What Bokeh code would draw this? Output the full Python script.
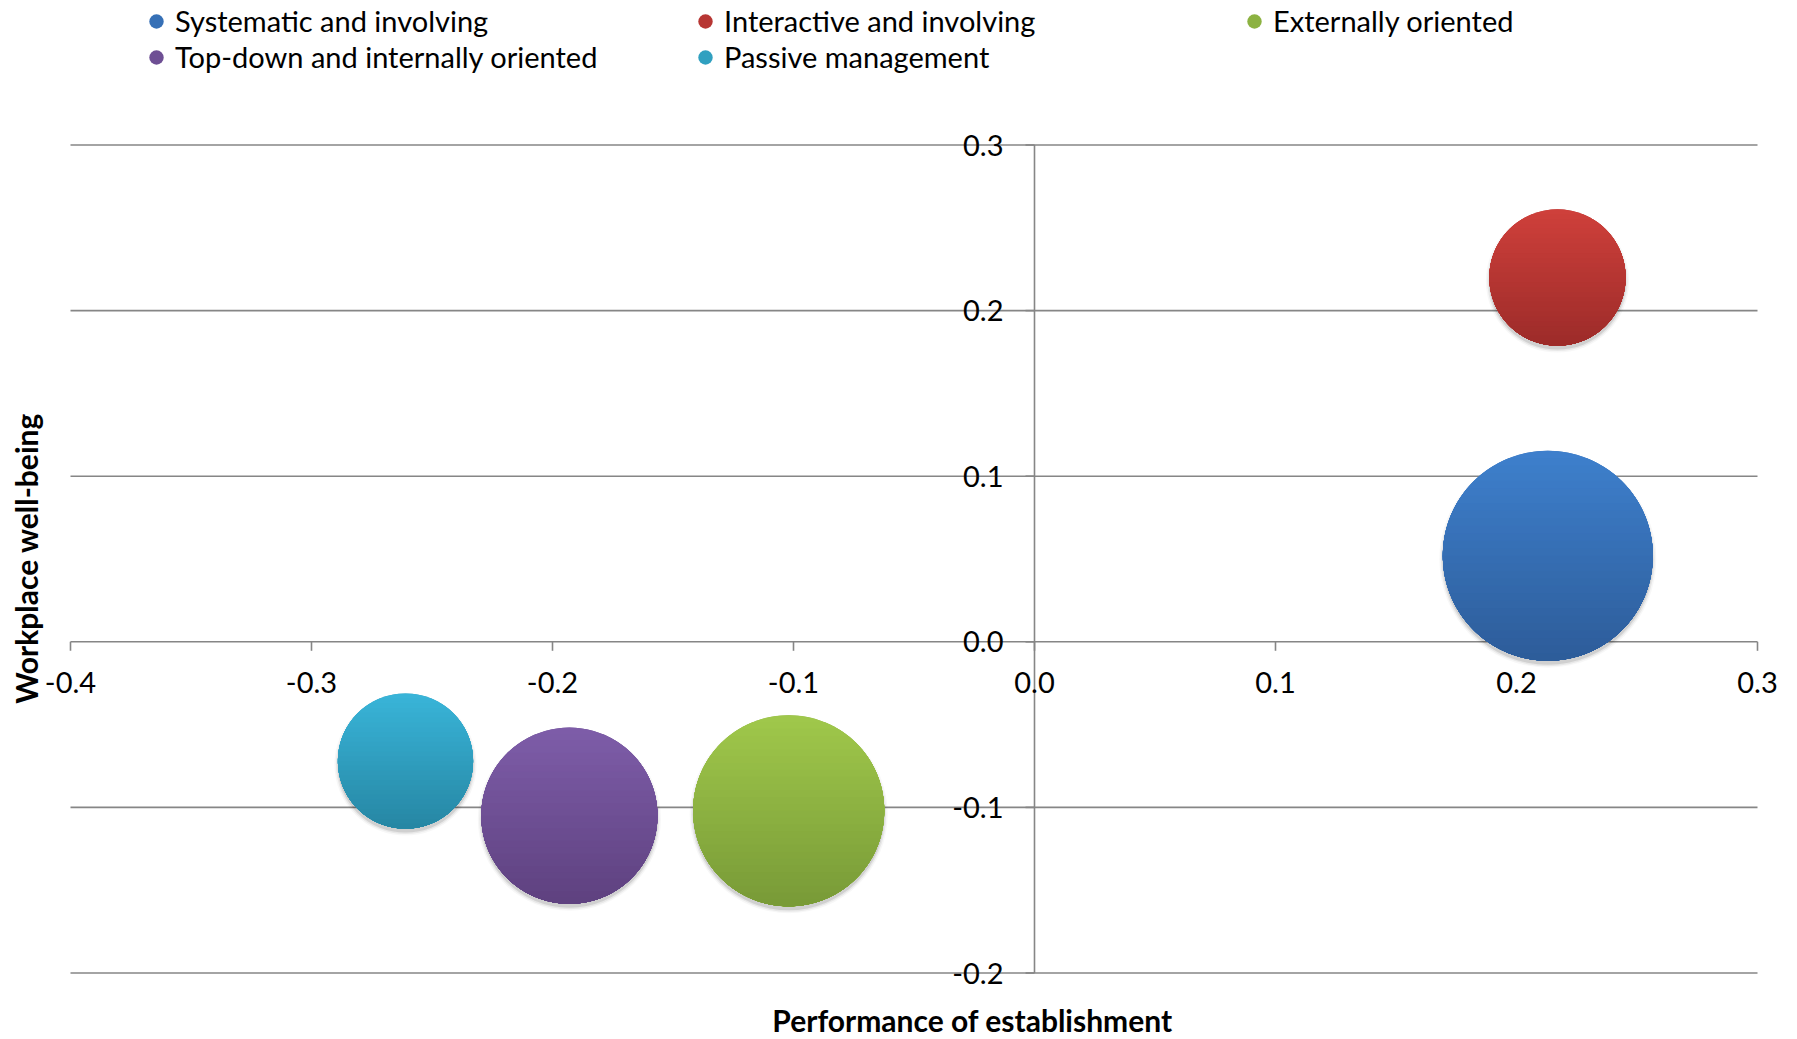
import math

from bokeh.core.properties import value
from bokeh.embed import file_html
from bokeh.models import ColumnDataSource, Label, LabelSet, Legend, LegendItem
from bokeh.plotting import figure
from bokeh.resources import INLINE

# ---- data -------------------------------------------------------------
clusters = [
    "Systematic and involving",
    "Interactive and involving",
    "Externally oriented",
    "Top-down and internally oriented",
    "Passive management",
]
performance = [0.213, 0.217, -0.102, -0.193, -0.261]
wellbeing = [0.052, 0.220, -0.102, -0.105, -0.072]
share = [29.7, 12.5, 24.6, 20.9, 12.3]  # bubble size: share of establishments (%)

# ---- styles -----------------------------------------------------------
color_mid = ["#3670b6", "#b73633", "#8cb241", "#6e4f94", "#30a0c0"]
color_top = ["#3e80cd", "#cf403b", "#a0c84b", "#7e5da9", "#39b5d9"]
color_bottom = ["#2d5c99", "#9c2b29", "#789a37", "#5e417f", "#2686a3"]

x_ticks = [-0.4, -0.3, -0.2, -0.1, 0.0, 0.1, 0.2, 0.3]
x_tick_labels = ["-0.4", "-0.3", "-0.2", "-0.1", "0.0", "0.1", "0.2", "0.3"]
y_ticks = [-0.2, -0.1, 0.0, 0.1, 0.2, 0.3]
y_tick_labels = ["-0.2", "-0.1", "0.0", "0.1", "0.2", "0.3"]

# ---- layout -----------------------------------------------------------
# The plotting frame covers the whole canvas; the tick extent sits inside it
# with these pixel margins so that labels, titles and legend are not clipped.
FONT = "Lato"
W, H = 1797, 1039
M_LEFT, M_RIGHT, M_TOP, M_BOTTOM = 70, 40, 144.5, 66.5
ppx = (W - M_LEFT - M_RIGHT) / (x_ticks[-1] - x_ticks[0])   # pixels per x unit
ppy = (H - M_TOP - M_BOTTOM) / (y_ticks[-1] - y_ticks[0])   # pixels per y unit
x_lo, x_hi = x_ticks[0] - M_LEFT / ppx, x_ticks[-1] + M_RIGHT / ppx
y_lo, y_hi = y_ticks[0] - M_BOTTOM / ppy, y_ticks[-1] + M_TOP / ppy
TICK_PX = 9
MAX_BUBBLE_PX = 210
GRID = "#868686"
TICK_FONT = "29px"
BANDS = 28

p = figure(
    width=W, height=H,
    x_range=(x_lo, x_hi), y_range=(y_lo, y_hi),
    x_axis_location=None, y_axis_location=None,
    min_border=0,
    output_backend="svg", toolbar_location=None,
)
p.title.visible = False
p.xgrid.visible = False
p.ygrid.visible = False
p.outline_line_color = None
p.background_fill_color = "white"
p.border_fill_color = "white"

# horizontal gridlines, spanning the x tick extent
p.segment(x0=[x_ticks[0]] * len(y_ticks), x1=[x_ticks[-1]] * len(y_ticks),
          y0=y_ticks, y1=y_ticks, line_color=GRID, line_width=1.6)
# vertical axis line at x = 0 and the tick marks of both axes
p.segment(x0=[0], x1=[0], y0=[y_ticks[0]], y1=[y_ticks[-1]], line_color=GRID, line_width=1.6)
p.segment(x0=x_ticks, x1=x_ticks, y0=[0] * len(x_ticks), y1=[-TICK_PX / ppy] * len(x_ticks),
          line_color=GRID, line_width=1.6)
p.segment(x0=[0] * len(y_ticks), x1=[-TICK_PX / ppx] * len(y_ticks), y0=y_ticks, y1=y_ticks,
          line_color=GRID, line_width=1.6)

# bubbles: area proportional to share
smax = max(share)
sizes = [MAX_BUBBLE_PX * math.sqrt(s / smax) for s in share]

# soft drop shadow below each bubble
for grow, alpha in [(1, 0.10), (4, 0.06), (7, 0.03)]:
    p.scatter(performance, [y - 3.5 / ppy for y in wellbeing], size=[s + grow for s in sizes],
              fill_color="black", fill_alpha=alpha, line_color=None)

src = ColumnDataSource(dict(x=performance, y=wellbeing, size=sizes, color=color_mid, name=clusters))
bubbles = p.scatter("x", "y", size="size", source=src, fill_color="color", line_color=None)


def mix(c1, c2, t):
    a = [int(c1[i:i + 2], 16) for i in (1, 3, 5)]
    b = [int(c2[i:i + 2], 16) for i in (1, 3, 5)]
    return "#" + "".join(f"{round(u + (v - u) * t):02x}" for u, v in zip(a, b))


# vertical light-to-dark shading: stacked caps of each bubble, cut ever lower
cap_xs, cap_ys, cap_colors = [], [], []
for i in range(len(clusters)):
    rx, ry = sizes[i] / 2 / ppx, sizes[i] / 2 / ppy
    cx, cy = performance[i], wellbeing[i]
    for k in range(BANDS):
        s = 1 - 2 * k / BANDS
        t0 = math.asin(s)
        t1 = -math.pi - t0
        n = 90
        th = [t0 + (t1 - t0) * j / n for j in range(n + 1)]
        cap_xs.append([cx + rx * math.cos(a) for a in th])
        cap_ys.append([cy + ry * math.sin(a) for a in th])
        cap_colors.append(mix(color_top[i], color_bottom[i], (k + 0.5) / BANDS))
p.patches(cap_xs, cap_ys, fill_color=cap_colors, line_color=None)

# tick labels
xl = ColumnDataSource(dict(x=x_ticks, y=[0] * len(x_ticks), t=x_tick_labels))
p.add_layout(LabelSet(x="x", y="y", text="t", source=xl, y_offset=-41,
                      text_align="center", text_baseline="middle",
                      text_font=value(FONT), text_font_size=TICK_FONT, text_color="black"))
yl = ColumnDataSource(dict(x=[0] * len(y_ticks), y=y_ticks, t=y_tick_labels))
p.add_layout(LabelSet(x="x", y="y", text="t", source=yl, x_offset=-31,
                      text_align="right", text_baseline="middle",
                      text_font=value(FONT), text_font_size=TICK_FONT, text_color="black"))

# axis titles (screen units measured from the bottom-left of the canvas)
p.add_layout(Label(x=972, y=H - 1019, x_units="screen", y_units="screen",
                   text="Performance of establishment", text_align="center",
                   text_baseline="middle", text_font=FONT, text_font_size="30px",
                   text_font_style="bold", text_color="black"))
p.add_layout(Label(x=25, y=H - 558, x_units="screen", y_units="screen",
                   text="Workplace well-being", angle=math.pi / 2, text_align="center",
                   text_baseline="middle", text_font=FONT, text_font_size="30px",
                   text_font_style="bold", text_color="black"))

# legend above the plot, three columns
items = [LegendItem(label=c, renderers=[bubbles], index=i) for i, c in enumerate(clusters)]
legend = Legend(items=items, location=(137, H - 74.6), orientation="horizontal", ncols=3,
                glyph_width=38, glyph_height=36, label_standoff=0, label_width=511,
                label_height=36, spacing=0, padding=0, margin=0,
                border_line_color=None, background_fill_alpha=0,
                label_text_font=FONT, label_text_font_size="29px", label_text_color="black")
p.add_layout(legend)

open("out.html", "w").write(file_html(p, INLINE))
